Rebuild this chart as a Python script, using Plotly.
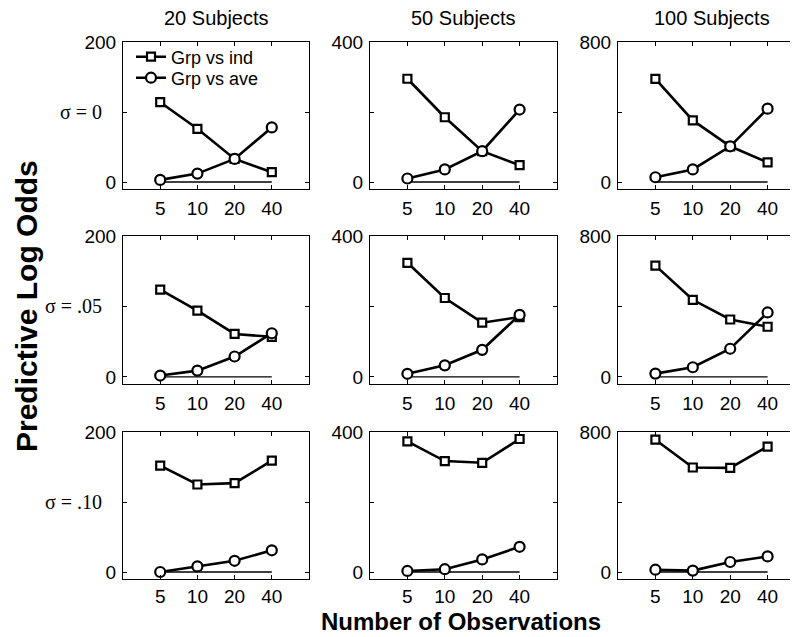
import plotly.graph_objects as go

# ---------------- data ----------------
obs_labels = ["5", "10", "20", "40"]
obs_pos = [1, 2, 3, 4]
subjects = ["20 Subjects", "50 Subjects", "100 Subjects"]
sigma_labels = ["σ = 0", "σ = .05", "σ = .10"]
y_max = [200, 400, 800]

# Grp vs ind (squares), per sigma row, per subject column
ind_sigma0 = [[114, 76, 33, 14], [295, 185, 88, 48], [589, 352, 204, 112]]
ind_sigma05 = [[124, 94, 61, 57], [324, 224, 154, 170], [632, 438, 326, 285]]
ind_sigma10 = [[152, 125, 127, 159], [373, 317, 312, 380], [756, 597, 595, 717]]

# Grp vs ave (circles)
ave_sigma0 = [[3, 12, 33, 78], [10, 36, 88, 207], [27, 72, 204, 419]]
ave_sigma05 = [[2, 9, 29, 62], [9, 33, 77, 176], [19, 55, 160, 366]]
ave_sigma10 = [[0, 8, 16, 31], [3, 8, 36, 72], [13, 8, 57, 89]]

ind_rows = [ind_sigma0, ind_sigma05, ind_sigma10]
ave_rows = [ave_sigma0, ave_sigma05, ave_sigma10]
zero_line = [0, 0, 0, 0]

# ---------------- layout geometry (screen pixels) ----------------
W, H = 798, 637
OFF = 8  # page body margin
col_px = [(123, 309), (370, 557), (618, 805)]
row_px = [(42, 189), (236, 384), (432, 579)]


def px_x(x):
    return (x - OFF) / W


def px_y(y):
    return 1 - (y - OFF) / H


FONT = "Liberation Sans, Arial, Helvetica, sans-serif"
SERIF = "Liberation Serif, Times New Roman, serif"

fig = go.Figure()
layout = {}
annotations = []

for r in range(3):
    for c in range(3):
        k = r * 3 + c + 1
        xa = "x" if k == 1 else f"x{k}"
        ya = "y" if k == 1 else f"y{k}"
        xkey = "xaxis" if k == 1 else f"xaxis{k}"
        ykey = "yaxis" if k == 1 else f"yaxis{k}"
        x0, x1 = col_px[c]
        y0, y1 = row_px[r]
        s = y_max[c]
        layout[xkey] = dict(
            domain=[px_x(x0), min(px_x(x1), 1.0)],
            range=[0, 5],
            anchor=ya,
            tickmode="array",
            tickvals=obs_pos,
            ticktext=obs_labels,
            ticks="inside",
            ticklen=4,
            tickcolor="black",
            showline=True,
            linecolor="black",
            linewidth=1,
            mirror="ticks",
            showgrid=False,
            zeroline=False,
            tickfont=dict(family=FONT, size=19, color="black"),
            ticklabelstandoff=2 if r < 2 else 0,
            fixedrange=True,
        )
        layout[ykey] = dict(
            domain=[px_y(y1), px_y(y0)],
            range=[-0.05 * s, s],
            anchor=xa,
            tickmode="array",
            tickvals=[0, s / 2, s],
            ticktext=["0", "", str(s)],
            ticks="inside",
            ticklen=4,
            tickcolor="black",
            showline=True,
            linecolor="black",
            linewidth=1,
            mirror="ticks",
            showgrid=False,
            zeroline=False,
            tickfont=dict(family=FONT, size=19, color="black"),
            ticklabelstandoff=2,
            fixedrange=True,
        )
        # zero reference line
        fig.add_trace(go.Scatter(
            x=obs_pos, y=zero_line, xaxis=xa, yaxis=ya, mode="lines",
            line=dict(color="black", width=1.3), showlegend=False, hoverinfo="skip"))
        fig.add_trace(go.Scatter(
            x=obs_pos, y=ind_rows[r][c], xaxis=xa, yaxis=ya, mode="lines+markers",
            name="Grp vs ind", showlegend=(k == 1), legend="legend",
            line=dict(color="black", width=2.6),
            marker=dict(symbol="square", size=8, color="white",
                        line=dict(color="black", width=2.2))))
        fig.add_trace(go.Scatter(
            x=obs_pos, y=ave_rows[r][c], xaxis=xa, yaxis=ya, mode="lines+markers",
            name="Grp vs ave", showlegend=(k == 1), legend="legend2",
            line=dict(color="black", width=2.6),
            marker=dict(symbol="circle", size=10, color="white",
                        line=dict(color="black", width=2.2))))
        if c == 0:
            annotations.append(dict(
                text=sigma_labels[r], xref="paper", yref=ya, x=px_x(104), y=s / 2,
                xanchor="right", yanchor="middle", showarrow=False,
                font=dict(family=SERIF, size=20, color="black")))
        if r == 0:
            annotations.append(dict(
                text=subjects[c], xref="paper", yref="paper",
                x=px_x((x0 + x1) / 2), y=px_y(18),
                xanchor="center", yanchor="middle", showarrow=False,
                font=dict(family=FONT, size=20, color="black")))

annotations.append(dict(
    text="<b>Predictive Log Odds</b>", xref="paper", yref="paper",
    x=px_x(26), y=px_y(306), textangle=-90, xanchor="center", yanchor="middle",
    showarrow=False, font=dict(family=FONT, size=30, color="black")))
annotations.append(dict(
    text="<b>Number of Observations</b>", xref="paper", yref="paper",
    x=px_x(461), y=px_y(621), xanchor="center", yanchor="middle",
    showarrow=False, font=dict(family=FONT, size=24, color="black")))

legend_common = dict(xanchor="left", yanchor="middle",
                     bgcolor="rgba(0,0,0,0)", borderwidth=0,
                     font=dict(family=FONT, size=18, color="black"))

fig.update_layout(
    width=W, height=H,
    margin=dict(l=0, r=0, t=0, b=0, autoexpand=False),
    paper_bgcolor="white", plot_bgcolor="white",
    showlegend=True,
    legend=dict(x=px_x(131), y=px_y(57), **legend_common),
    legend2=dict(x=px_x(131), y=px_y(78), **legend_common),
    annotations=annotations,
    hovermode=False,
    **layout,
)

fig.write_html("out.html")
